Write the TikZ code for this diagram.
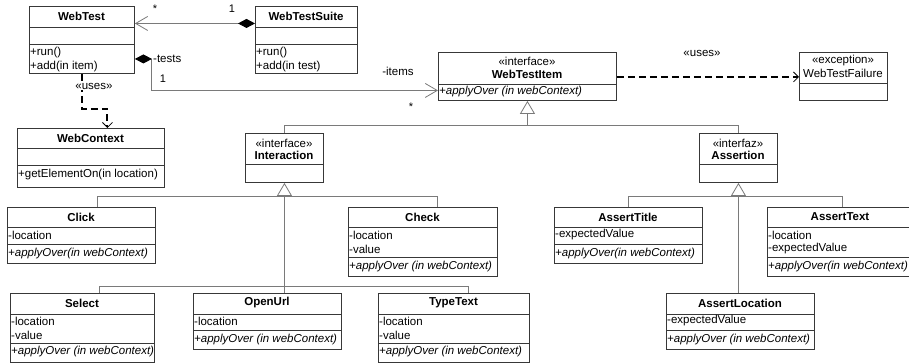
\documentclass[tikz,border=0pt]{standalone}
\usepackage{fontspec}
\setmainfont{Liberation Sans}
\usetikzlibrary{arrows.meta}

\definecolor{boxline}{HTML}{383838}
\definecolor{linkcol}{HTML}{7A7A7A}

% class frame: name, left, top, width, height, separator rows
\newcommand\umlclass[6]{%
  \node[classbox, minimum width=#4pt, minimum height=#5pt] (#1) at (#2,#3) {};
  \foreach \s in {#6} { \draw[sep] (#2,\s) -- (#2+#4,\s); }
}

\begin{document}
\begin{tikzpicture}[x=1pt,y=-1pt,
  every node/.style={font=\fontsize{11.5}{13}\selectfont, inner sep=0pt},
  classbox/.style={draw=boxline, line width=0.9pt, anchor=north west, fill=white},
  sep/.style={draw=boxline, line width=0.9pt},
  title/.style={font=\fontsize{11.5}{13}\selectfont\bfseries},
  member/.style={anchor=west},
  op/.style={anchor=west, font=\fontsize{11.5}{13}\selectfont\itshape},
  link/.style={draw=linkcol, line width=0.8pt},
  comp/.style={link, {Diamond[length=17pt, width=9pt, black]}-{Straight Barb[length=12pt, width=14pt, line width=0.8pt]}},
  gen/.style={link, -{Triangle[open, length=13pt, width=15pt, fill=white]}},
  dep/.style={draw=black, line width=2pt, dash pattern=on 7pt off 4pt,
              -{Straight Barb[length=5pt, width=10pt, line width=0.8pt]}},
  mult/.style={font=\fontsize{11}{13}\selectfont},
]
\useasboundingbox[fill=white] (0,0) rectangle (909,363);

% ---------- classes ----------
\umlclass{webtest}{29}{6}{105}{67}{27,44}
\node[title] (webtest-t) at (81.5,16.5) {WebTest};
\node[member] (webtest-o1) at (30,53) {+run()};
\node[member] (webtest-o2) at (30,67) {+add(in item)};

\umlclass{webtestsuite}{255}{6}{102}{67}{27,44}
\node[title] (webtestsuite-t) at (306,16.5) {WebTestSuite};
\node[member] (webtestsuite-o1) at (256,53) {+run()};
\node[member] (webtestsuite-o2) at (256,67) {+add(in test)};

\umlclass{webcontext}{17}{128}{147}{59}{148,165}
\node[title] (webcontext-t) at (90.5,138) {WebContext};
\node[member] (webcontext-o1) at (18,175) {+getElementOn(in location)};

\umlclass{webtestitem}{438}{52}{178}{48}{84}
\node (webtestitem-s) at (527,61) {«interface»};
\node[title] (webtestitem-t) at (527,74) {WebTestItem};
\node[op] (webtestitem-o1) at (439,92) {+applyOver (in webContext)};

\umlclass{webtestfailure}{799}{52}{88}{48}{83}
\node (webtestfailure-s) at (843,61) {«exception»};
\node (webtestfailure-t) at (843,73.5) {WebTestFailure};

\umlclass{interaction}{245}{133}{78}{49}{164}
\node (interaction-s) at (284,143) {«interface»};
\node[title] (interaction-t) at (284,155) {Interaction};

\umlclass{assertion}{699}{133}{78}{49}{164}
\node (assertion-s) at (738,143) {«interfaz»};
\node[title] (assertion-t) at (738,155) {Assertion};

\umlclass{click}{7}{207}{148}{56}{227,244}
\node[title] (click-t) at (81,217) {Click};
\node[member] (click-a1) at (8,235) {-location};
\node[op] (click-o1) at (8,254) {+applyOver(in webContext)};

\umlclass{check}{348}{207}{149}{69}{227,257}
\node[title] (check-t) at (422.5,217) {Check};
\node[member] (check-a1) at (349,235) {-location};
\node[member] (check-a2) at (349,249) {-value};
\node[op] (check-o1) at (349,266.5) {+applyOver (in webContext)};

\umlclass{asserttitle}{554}{207}{148}{56}{227,244}
\node[title] (asserttitle-t) at (628,217) {AssertTitle};
\node[member] (asserttitle-a1) at (555,235) {-expectedValue};
\node[op] (asserttitle-o1) at (555,254) {+applyOver(in webContext)};

\umlclass{asserttext}{767}{207}{146}{69}{227,257}
\node[title] (asserttext-t) at (840,217) {AssertText};
\node[member] (asserttext-a1) at (768,235) {-location};
\node[member] (asserttext-a2) at (768,249) {-expectedValue};
\node[op] (asserttext-o1) at (768,266.5) {+applyOver(in webContext)};

\umlclass{select}{10}{293}{144}{69}{314,343}
\node[title] (select-t) at (82,303) {Select};
\node[member] (select-a1) at (11,321) {-location};
\node[member] (select-a2) at (11,335) {-value};
\node[op] (select-o1) at (11,352) {+applyOver (in webContext)};

\umlclass{openurl}{193}{293}{148}{56}{314,330}
\node[title] (openurl-t) at (267,303) {OpenUrl};
\node[member] (openurl-a1) at (194,321) {-location};
\node[op] (openurl-o1) at (194,339.5) {+applyOver (in webContext)};

\umlclass{typetext}{378}{293}{151}{69}{314,343}
\node[title] (typetext-t) at (453.5,303) {TypeText};
\node[member] (typetext-a1) at (379,321) {-location};
\node[member] (typetext-a2) at (379,335) {-value};
\node[op] (typetext-o1) at (379,352) {+applyOver (in webContext)};

\umlclass{assertlocation}{666}{293}{148}{56}{314,330}
\node[title] (assertlocation-t) at (740,303) {AssertLocation};
\node[member] (assertlocation-a1) at (667,321) {-expectedValue};
\node[op] (assertlocation-o1) at (667,339.5) {+applyOver (in webContext)};

% ---------- associations ----------
\draw[comp] ([yshift=16.5pt]webtestsuite.west) -- ([yshift=16.5pt]webtest.east);
\node[mult] (m-star1) at (155,9) {*};
\node[mult] (m-one1) at (232,9) {1};

\draw[comp] ([yshift=-19pt]webtest.east) -- ++(16,0) |- ([yshift=-14pt]webtestitem.west);
\node[member] (l-tests) at (153,58.5) {-tests};
\node[mult] (m-one2) at (163,79) {1};
\node (l-items) at (398,71) {-items};
\node[mult] (m-star2) at (411,107) {*};

% ---------- dependencies ----------
\draw[dep] (webtest.south) -- ++(0,35) -| ([xshift=16.5pt]webcontext.north);
\node[fill=white, inner sep=1pt] (l-uses1) at (94,86) {«uses»};

\draw[dep] ([yshift=-0.5pt]webtestitem.east) -- ([yshift=-0.5pt]webtestfailure.west);
\node (l-uses2) at (702,53) {«uses»};

% ---------- generalizations ----------
\draw[link] (interaction.north) -- ++(0,-8) -| (assertion.north);
\draw[gen] ([yshift=-25pt]webtestitem.south) -- (webtestitem.south);

\draw[link] ([xshift=16pt]click.north) -- ++(0,-11) -| ([xshift=14.5pt]check.north);
\draw[link] ([xshift=17pt]select.north) -- ++(0,-7) -| ([xshift=14.5pt]typetext.north);
\draw[gen] (interaction.south |- openurl.north) -- (interaction.south);

\draw[link] (asserttitle.north) -- ++(0,-11) -| ([xshift=2pt]asserttext.north);
\draw[gen] (assertion.south |- assertlocation.north) -- (assertion.south);
\end{tikzpicture}
\end{document}
